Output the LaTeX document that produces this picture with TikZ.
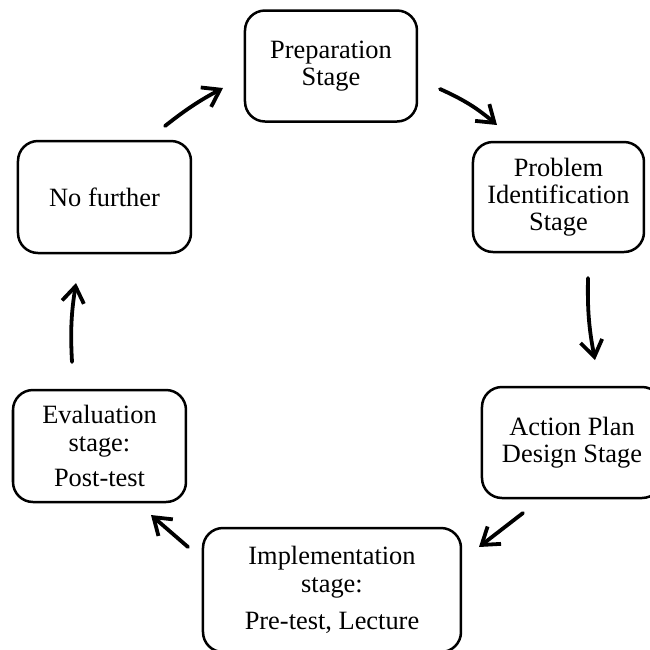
\documentclass[tikz,border=0pt]{standalone}
\usepackage{fontspec}
\setmainfont{Liberation Serif}
\usetikzlibrary{arrows.meta}

\begin{document}
\begin{tikzpicture}[x=0.5pt,y=-0.5pt,
    stage/.style={draw=black, line width=1.25pt, rounded corners=10pt, align=center, inner sep=0pt},
    cycle/.style={line width=1.9pt, line cap=round, -{Straight Barb[length=8pt,width=11pt]}}]
		    % Frame:
		    % The picture is cut to the page, so the boxes at the border are cut too
		    \clip (0,0) rectangle (650,650);
		    \begin{scope}[font=\fontsize{13.2}{13.6}\selectfont]
		    % Stages:
		    % Are simply placed at coordinates and drawn as rounded boxes
		    \node [stage, minimum width=86pt, minimum height=55.5pt] (prep) at (331,66) {Preparation\\Stage};
		    \node [stage, minimum width=85.5pt, minimum height=55pt] (prob) at (558.5,197) {Problem\\Identification\\Stage};
		    \node [stage, minimum width=90pt, minimum height=55.5pt] (design) at (572,442.5) {Action Plan\\Design Stage};
		    \node [stage, minimum width=129pt, minimum height=62pt] (impl) at (332,590) {Implementation\\stage:\\[5pt]Pre-test, Lecture};
		    \node [stage, minimum width=86.5pt, minimum height=56pt] (eval) at (99.5,446) {Evaluation\\stage:\\[4pt]Post-test};
		    \node [stage, minimum width=86.5pt, minimum height=56pt] (nofur) at (104.5,197) {No further};

		    % Arrows:
		    % Their ends stand free between the boxes, so they get coordinates of their own
		    \coordinate (nofur-out) at (165,126);   \coordinate (prep-in) at (223,88);
		    \coordinate (prep-out) at (440,89);     \coordinate (prob-in) at (497,125);
		    \coordinate (prob-out) at (588,278);    \coordinate (design-in) at (595,360);
		    \coordinate (design-out) at (523,513);  \coordinate (impl-in) at (479,547);
		    \coordinate (impl-out) at (188,547);    \coordinate (eval-in) at (151,515);
		    \coordinate (eval-out) at (72,362);     \coordinate (nofur-in) at (76,283);

		    \draw [cycle] (nofur-out) to [bend left=5] (prep-in);
		    \draw [cycle] (prep-out) to [bend left=8] (prob-in);
		    \draw [cycle] (prob-out) to [bend right=6] (design-in);
		    \draw [cycle] (design-out) -- (impl-in);
		    \draw [cycle] (impl-out) -- (eval-in);
		    \draw [cycle] (eval-out) to [bend left=6] (nofur-in);
		    \end{scope}
		\end{tikzpicture}
\end{document}
